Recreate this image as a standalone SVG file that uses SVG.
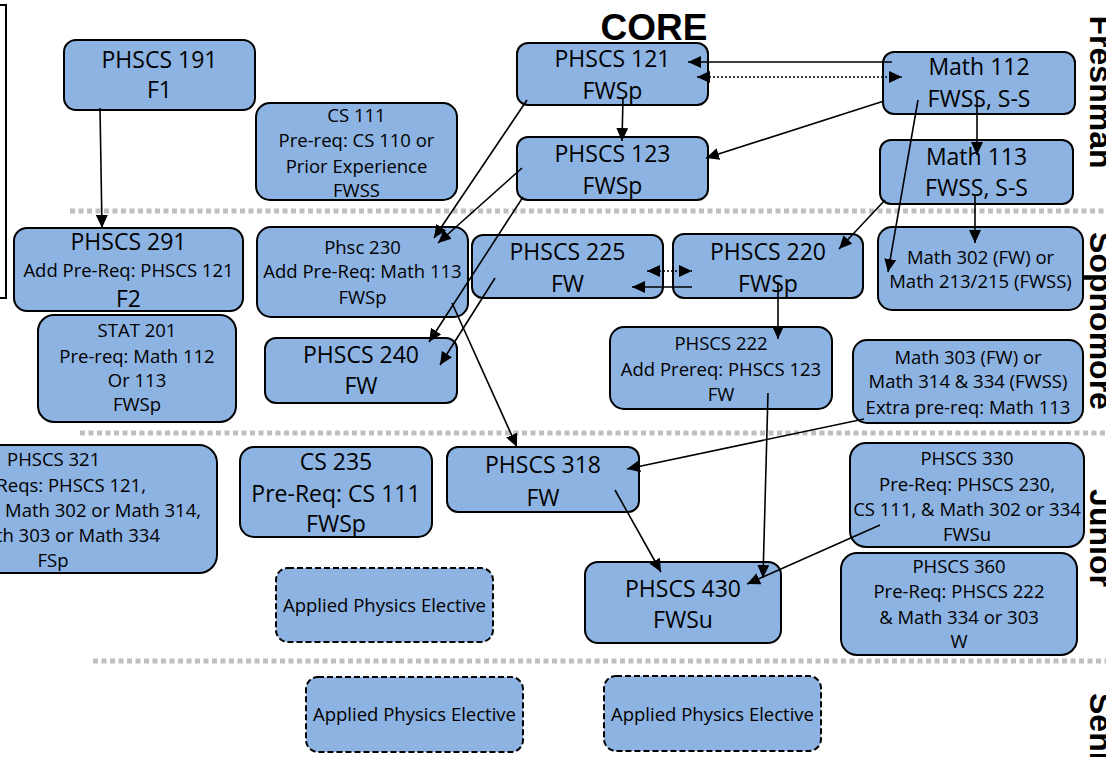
<svg xmlns="http://www.w3.org/2000/svg" width="1106" height="757" viewBox="0 0 1106 757">
<style>
.b{fill:#8DB3E2;stroke:#000;stroke-width:2}
.d{fill:#8DB3E2;stroke:#000;stroke-width:2;stroke-dasharray:6 3}
.L{font-family:"Open Sans","Liberation Sans",sans-serif;font-size:23px;fill:#000;text-anchor:middle}
.S{font-family:"Open Sans","Liberation Sans",sans-serif;font-size:18.5px;fill:#000;text-anchor:middle}
.st{text-anchor:start}
.en{text-anchor:end}
.sep{stroke:#BFBFBF;stroke-width:5;stroke-dasharray:5 3.5;fill:none}
.yr{font-family:"Liberation Sans",Arial,sans-serif;font-size:32px;font-weight:bold;fill:#000}
.c{stroke:#000;stroke-width:1.6;fill:none;marker-end:url(#ah)}
.dot{stroke:#000;stroke-width:1.6;fill:none;stroke-dasharray:2 2;marker-end:url(#ah);marker-start:url(#ah)}
</style>
<defs>
<marker id="ah" markerUnits="userSpaceOnUse" markerWidth="14" markerHeight="12" refX="13" refY="6" orient="auto-start-reverse">
<path d="M0,0 L13,6 L0,12 z" fill="#000"/>
</marker>
</defs>
<rect x="0" y="0" width="1106" height="757" fill="#fff"/>
<g id="frame">
<rect x="-100" y="5" width="106" height="293" fill="none" stroke="#000" stroke-width="2"/>
</g>
<g id="separators">
<line class="sep" x1="70" y1="211" x2="1106" y2="211"/>
<line class="sep" x1="80" y1="433" x2="1106" y2="433"/>
<line class="sep" x1="93" y1="661" x2="1106" y2="661"/>
</g>
<g id="labels">
<text x="654" y="40" font-family="Liberation Sans, Arial, sans-serif" font-size="37" font-weight="bold" text-anchor="middle">CORE</text>
<text class="yr" transform="translate(1090,92) rotate(90)" text-anchor="middle">Freshman</text>
<text class="yr" transform="translate(1090,321) rotate(90)" text-anchor="middle">Sophomore</text>
<text class="yr" transform="translate(1090,538) rotate(90)" text-anchor="middle">Junior</text>
<text class="yr" transform="translate(1090,693) rotate(90)">Senior</text>
</g>
<g id="n191"><rect class="b" x="64" y="40" width="191" height="70" rx="12"/><text class="L" x="159.5" y="68">PHSCS 191</text><text class="L" x="159.5" y="98">F1</text></g>
<g id="cs111"><rect class="b" x="256" y="103" width="201" height="97" rx="14"/><text class="S" x="356.5" y="122">CS 111</text><text class="S" x="356.5" y="147">Pre-req: CS 110 or</text><text class="S" x="356.5" y="173">Prior Experience</text><text class="S" x="356.5" y="197">FWSS</text></g>
<g id="n121"><rect class="b" x="517" y="43" width="191" height="62" rx="11"/><text class="L" x="612.5" y="67">PHSCS 121</text><text class="L" x="612.5" y="99">FWSp</text></g>
<g id="n123"><rect class="b" x="517" y="137" width="191" height="63" rx="11"/><text class="L" x="612.5" y="162">PHSCS 123</text><text class="L" x="612.5" y="194">FWSp</text></g>
<g id="m112"><rect class="b" x="883" y="52" width="192" height="62" rx="11"/><text class="L" x="979" y="75">Math 112</text><text class="L" x="979" y="107">FWSS, S-S</text></g>
<g id="m113"><rect class="b" x="880" y="140" width="193" height="64" rx="11"/><text class="L" x="976.5" y="165">Math 113</text><text class="L" x="976.5" y="196">FWSS, S-S</text></g>
<g id="n291"><rect class="b" x="14" y="228" width="229" height="83" rx="13"/><text class="L" x="128.5" y="250">PHSCS 291</text><text class="S" x="128.5" y="277">Add Pre-Req:  PHSCS 121</text><text class="L" x="128.5" y="307">F2</text></g>
<g id="stat201"><rect class="b" x="38" y="315" width="198" height="107" rx="16"/><text class="S" x="137" y="337">STAT 201</text><text class="S" x="137" y="363">Pre-req:  Math 112</text><text class="S" x="137" y="387">Or 113</text><text class="S" x="137" y="411">FWSp</text></g>
<g id="n230"><rect class="b" x="257" y="227" width="211" height="90" rx="14"/><text class="S" x="362.5" y="254">Phsc 230</text><text class="S" x="362.5" y="278">Add Pre-Req:  Math 113</text><text class="S" x="362.5" y="304">FWSp</text></g>
<g id="n240"><rect class="b" x="265" y="338" width="192" height="65" rx="11"/><text class="L" x="361" y="363">PHSCS 240</text><text class="L" x="361" y="394">FW</text></g>
<g id="n225"><rect class="b" x="472" y="235" width="191" height="63" rx="11"/><text class="L" x="567.5" y="260">PHSCS 225</text><text class="L" x="567.5" y="292">FW</text></g>
<g id="n220"><rect class="b" x="673" y="234" width="190" height="64" rx="11"/><text class="L" x="768" y="260">PHSCS 220</text><text class="L" x="768" y="292">FWSp</text></g>
<g id="m302"><rect class="b" x="878" y="227" width="205" height="83" rx="14"/><text class="S" x="980.5" y="264">Math 302 (FW) or</text><text class="S" x="980.5" y="288">Math 213/215 (FWSS)</text></g>
<g id="n222"><rect class="b" x="610" y="327" width="222" height="82" rx="14"/><text class="S" x="721" y="350">PHSCS 222</text><text class="S" x="721" y="376">Add Prereq: PHSCS 123</text><text class="S" x="721" y="401">FW</text></g>
<g id="m303"><rect class="b" x="853" y="340" width="230" height="83" rx="14"/><text class="S" x="968" y="364">Math 303 (FW) or</text><text class="S" x="968" y="388">Math 314 &amp; 334 (FWSS)</text><text class="S" x="968" y="414">Extra pre-req: Math 113</text></g>
<g id="n321"><rect class="b" x="-120" y="445" width="337" height="128" rx="18"/><text class="S st" x="7" y="466">PHSCS 321</text><text class="S en" x="146" y="492">Pre-Reqs:  PHSCS 121,</text><text class="S en" x="201" y="517">Math 302 or Math 314,</text><text class="S en" x="160" y="542">Math 303 or Math 334</text><text class="S" x="53" y="567">FSp</text></g>
<g id="cs235"><rect class="b" x="240" y="447" width="192" height="90" rx="14"/><text class="L" x="336" y="470">CS 235</text><text class="L" x="336" y="502">Pre-Req: CS 111</text><text class="L" x="336" y="532">FWSp</text></g>
<g id="elec1"><rect class="d" x="276" y="568" width="217" height="74" rx="12"/><text class="S" x="384.5" y="612">Applied Physics Elective</text></g>
<g id="n318"><rect class="b" x="447" y="447" width="192" height="65" rx="11"/><text class="L" x="543" y="473">PHSCS 318</text><text class="L" x="543" y="506">FW</text></g>
<g id="n430"><rect class="b" x="585" y="562" width="196" height="81" rx="13"/><text class="L" x="683" y="597">PHSCS 430</text><text class="L" x="683" y="628">FWSu</text></g>
<g id="n330"><rect class="b" x="850" y="443" width="234" height="104" rx="16"/><text class="S" x="967" y="465">PHSCS 330</text><text class="S" x="967" y="491">Pre-Req: PHSCS 230,</text><text class="S" x="967" y="516">CS 111, &amp; Math 302 or 334</text><text class="S" x="967" y="541">FWSu</text></g>
<g id="n360"><rect class="b" x="841" y="553" width="236" height="102" rx="16"/><text class="S" x="959" y="573">PHSCS 360</text><text class="S" x="959" y="598">Pre-Req:  PHSCS 222</text><text class="S" x="959" y="624">&amp; Math 334 or 303</text><text class="S" x="959" y="648">W</text></g>
<g id="elec2"><rect class="d" x="306" y="677" width="217" height="75" rx="12"/><text class="S" x="414.5" y="721">Applied Physics Elective</text></g>
<g id="elec3"><rect class="d" x="604" y="676" width="217" height="75" rx="12"/><text class="S" x="712.5" y="721">Applied Physics Elective</text></g>
<g id="connectors">
<line class="c" x1="100" y1="108" x2="102" y2="228"/>
<line class="c" x1="892" y1="62" x2="688" y2="62"/>
<line class="dot" x1="697" y1="77" x2="902" y2="77"/>
<line class="c" x1="623" y1="98" x2="622" y2="141"/>
<line class="c" x1="884" y1="101" x2="706" y2="158"/>
<line class="c" x1="918" y1="100" x2="888" y2="272"/>
<line class="c" x1="977" y1="98" x2="977" y2="155"/>
<line class="c" x1="975" y1="196" x2="975" y2="243"/>
<line class="c" x1="885" y1="200" x2="839" y2="249"/>
<line class="c" x1="527" y1="100" x2="434" y2="238"/>
<line class="c" x1="522" y1="168" x2="438" y2="243"/>
<line class="c" x1="523" y1="197" x2="429" y2="342"/>
<line class="c" x1="495" y1="278" x2="440" y2="365"/>
<line class="c" x1="452" y1="303" x2="517" y2="447"/>
<line class="c" x1="692" y1="287" x2="632" y2="287"/>
<line class="dot" x1="647" y1="271" x2="692" y2="271"/>
<line class="c" x1="778" y1="282" x2="778" y2="339"/>
<line class="c" x1="768" y1="393" x2="763" y2="578"/>
<line class="c" x1="864" y1="419" x2="627" y2="469"/>
<line class="c" x1="615" y1="490" x2="661" y2="572"/>
<line class="c" x1="880" y1="525" x2="747" y2="584"/>
</g>
</svg>
